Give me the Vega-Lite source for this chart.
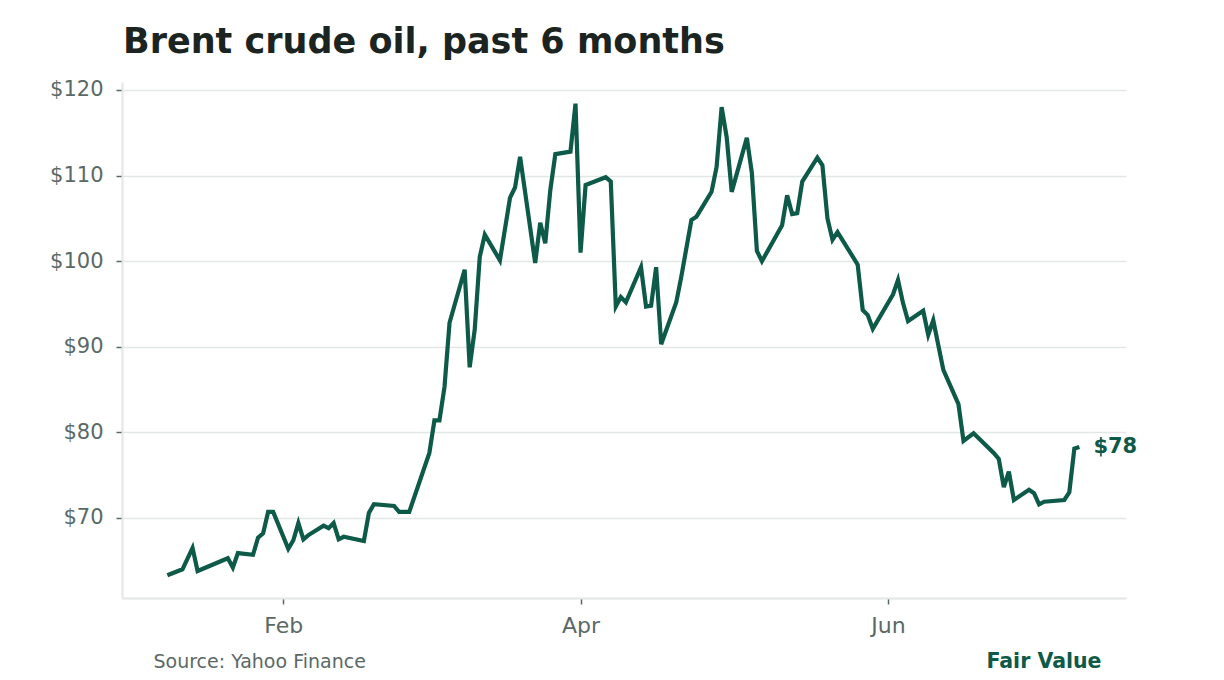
{
  "$schema": "https://vega.github.io/schema/vega-lite/v6.json",
  "autosize": "none",
  "width": 1004,
  "height": 516,
  "padding": {"left": 122, "top": 82, "right": 98, "bottom": 82},
  "background": "#ffffff",
  "title": {
    "text": "Brent crude oil, past 6 months",
    "anchor": "start",
    "frame": "group",
    "font": "DejaVu Sans",
    "fontSize": 35,
    "fontWeight": "bold",
    "color": "#1b2420",
    "offset": 19,
    "dx": 1
  },
  "config": {
    "font": "DejaVu Sans",
    "view": {"stroke": null},
    "axis": {
      "labelFont": "DejaVu Sans",
      "labelColor": "#5b6966",
      "domainColor": "#e2e6e5",
      "domainWidth": 2,
      "gridColor": "#e2e6e5",
      "gridWidth": 1.5,
      "tickColor": "#5b6966",
      "tickSize": 6,
      "tickWidth": 1.5
    }
  },
  "data": {
    "values": [
      {"date": "2023-01-09", "price": 63.3},
      {"date": "2023-01-12", "price": 64.0},
      {"date": "2023-01-14", "price": 66.5},
      {"date": "2023-01-15", "price": 63.8},
      {"date": "2023-01-17", "price": 64.3},
      {"date": "2023-01-21", "price": 65.3},
      {"date": "2023-01-22", "price": 64.2},
      {"date": "2023-01-23", "price": 65.9},
      {"date": "2023-01-26", "price": 65.7},
      {"date": "2023-01-27", "price": 67.7},
      {"date": "2023-01-28", "price": 68.2},
      {"date": "2023-01-29", "price": 70.7},
      {"date": "2023-01-30", "price": 70.7},
      {"date": "2023-02-02", "price": 66.4},
      {"date": "2023-02-03", "price": 67.4},
      {"date": "2023-02-04", "price": 69.4},
      {"date": "2023-02-05", "price": 67.5},
      {"date": "2023-02-06", "price": 68.0},
      {"date": "2023-02-09", "price": 69.1},
      {"date": "2023-02-10", "price": 68.8},
      {"date": "2023-02-11", "price": 69.4},
      {"date": "2023-02-12", "price": 67.5},
      {"date": "2023-02-13", "price": 67.8},
      {"date": "2023-02-17", "price": 67.3},
      {"date": "2023-02-18", "price": 70.6},
      {"date": "2023-02-19", "price": 71.6},
      {"date": "2023-02-23", "price": 71.4},
      {"date": "2023-02-24", "price": 70.7},
      {"date": "2023-02-26", "price": 70.7},
      {"date": "2023-03-02", "price": 77.6},
      {"date": "2023-03-03", "price": 81.4},
      {"date": "2023-03-04", "price": 81.4},
      {"date": "2023-03-05", "price": 85.3},
      {"date": "2023-03-06", "price": 92.8},
      {"date": "2023-03-09", "price": 99.0},
      {"date": "2023-03-10", "price": 87.6},
      {"date": "2023-03-11", "price": 92.0},
      {"date": "2023-03-12", "price": 100.5},
      {"date": "2023-03-13", "price": 103.1},
      {"date": "2023-03-16", "price": 100.1},
      {"date": "2023-03-18", "price": 107.4},
      {"date": "2023-03-19", "price": 108.6},
      {"date": "2023-03-20", "price": 112.2},
      {"date": "2023-03-23", "price": 99.8},
      {"date": "2023-03-24", "price": 104.5},
      {"date": "2023-03-25", "price": 102.1},
      {"date": "2023-03-26", "price": 108.3},
      {"date": "2023-03-27", "price": 112.5},
      {"date": "2023-03-30", "price": 112.8},
      {"date": "2023-03-31", "price": 118.4},
      {"date": "2023-04-01", "price": 101.0},
      {"date": "2023-04-02", "price": 108.9},
      {"date": "2023-04-06", "price": 109.8},
      {"date": "2023-04-07", "price": 109.3},
      {"date": "2023-04-08", "price": 94.7},
      {"date": "2023-04-09", "price": 95.8},
      {"date": "2023-04-10", "price": 95.2},
      {"date": "2023-04-13", "price": 99.3},
      {"date": "2023-04-14", "price": 94.7},
      {"date": "2023-04-15", "price": 94.8},
      {"date": "2023-04-16", "price": 99.3},
      {"date": "2023-04-17", "price": 90.3},
      {"date": "2023-04-20", "price": 95.2},
      {"date": "2023-04-21", "price": 98.2},
      {"date": "2023-04-23", "price": 104.8},
      {"date": "2023-04-24", "price": 105.2},
      {"date": "2023-04-27", "price": 108.1},
      {"date": "2023-04-28", "price": 111.0},
      {"date": "2023-04-29", "price": 118.0},
      {"date": "2023-04-30", "price": 114.5},
      {"date": "2023-05-01", "price": 108.1},
      {"date": "2023-05-04", "price": 114.4},
      {"date": "2023-05-05", "price": 110.3},
      {"date": "2023-05-06", "price": 101.2},
      {"date": "2023-05-07", "price": 100.0},
      {"date": "2023-05-11", "price": 104.2},
      {"date": "2023-05-12", "price": 107.7},
      {"date": "2023-05-13", "price": 105.5},
      {"date": "2023-05-14", "price": 105.6},
      {"date": "2023-05-15", "price": 109.3},
      {"date": "2023-05-18", "price": 112.1},
      {"date": "2023-05-19", "price": 111.2},
      {"date": "2023-05-20", "price": 105.0},
      {"date": "2023-05-21", "price": 102.5},
      {"date": "2023-05-22", "price": 103.4},
      {"date": "2023-05-26", "price": 99.6},
      {"date": "2023-05-27", "price": 94.3},
      {"date": "2023-05-28", "price": 93.7},
      {"date": "2023-05-29", "price": 92.1},
      {"date": "2023-06-02", "price": 96.1},
      {"date": "2023-06-03", "price": 97.8},
      {"date": "2023-06-04", "price": 95.1},
      {"date": "2023-06-05", "price": 93.0},
      {"date": "2023-06-08", "price": 94.2},
      {"date": "2023-06-09", "price": 91.4},
      {"date": "2023-06-10", "price": 93.1},
      {"date": "2023-06-12", "price": 87.3},
      {"date": "2023-06-15", "price": 83.3},
      {"date": "2023-06-16", "price": 79.0},
      {"date": "2023-06-18", "price": 79.9},
      {"date": "2023-06-22", "price": 77.6},
      {"date": "2023-06-23", "price": 76.9},
      {"date": "2023-06-24", "price": 73.6},
      {"date": "2023-06-25", "price": 75.4},
      {"date": "2023-06-26", "price": 72.1},
      {"date": "2023-06-29", "price": 73.3},
      {"date": "2023-06-30", "price": 72.9},
      {"date": "2023-07-01", "price": 71.6},
      {"date": "2023-07-02", "price": 71.9},
      {"date": "2023-07-06", "price": 72.1},
      {"date": "2023-07-07", "price": 73.0},
      {"date": "2023-07-08", "price": 78.1},
      {"date": "2023-07-09", "price": 78.3}
    ]
  },
  "encoding": {
    "x": {
      "field": "date",
      "type": "temporal",
      "scale": {
        "type": "utc",
        "domain": [
          {"year": 2022, "month": 12, "date": 31, "utc": true},
          {"year": 2023, "month": 7, "date": 18, "hours": 6, "utc": true}
        ]
      },
      "axis": {
        "values": [
          {"year": 2023, "month": 2, "date": 1, "utc": true},
          {"year": 2023, "month": 4, "date": 1, "utc": true},
          {"year": 2023, "month": 6, "date": 1, "utc": true}
        ],
        "format": "%b",
        "grid": false,
        "labelFontSize": 22,
        "labelPadding": 11,
        "title": "Source: Yahoo Finance",
        "titleFont": "DejaVu Sans",
        "titleFontSize": 19,
        "titleFontWeight": "normal",
        "titleColor": "#5b6966",
        "titleAnchor": "start",
        "titleAlign": "left",
        "titleBaseline": "alphabetic",
        "titleX": 31,
        "titleY": 69
      }
    },
    "y": {
      "field": "price",
      "type": "quantitative",
      "scale": {"domain": [60.65, 120.93], "nice": false, "zero": false},
      "axis": {
        "values": [70, 80, 90, 100, 110, 120],
        "format": "$.0f",
        "labelFontSize": 21,
        "labelPadding": 13,
        "title": "Fair Value",
        "titleAngle": 0,
        "titleFont": "DejaVu Sans",
        "titleFontSize": 20.5,
        "titleFontWeight": "bold",
        "titleColor": "#0d5a48",
        "titleAlign": "right",
        "titleBaseline": "alphabetic",
        "titleX": 979,
        "titleY": 585
      }
    }
  },
  "layer": [
    {
      "mark": {
        "type": "line",
        "color": "#0d5a48",
        "strokeWidth": 4.2,
        "strokeJoin": "miter",
        "strokeCap": "butt"
      }
    },
    {
      "transform": [
        {"window": [{"op": "rank", "as": "r"}], "sort": [{"field": "date", "order": "descending"}]},
        {"filter": "datum.r === 1"}
      ],
      "mark": {
        "type": "text",
        "align": "left",
        "baseline": "middle",
        "dx": 14,
        "dy": 0,
        "font": "DejaVu Sans",
        "fontSize": 21,
        "fontWeight": "bold",
        "color": "#0d5a48"
      },
      "encoding": {
        "text": {"field": "price", "format": "$.0f"}
      }
    }
  ]
}
